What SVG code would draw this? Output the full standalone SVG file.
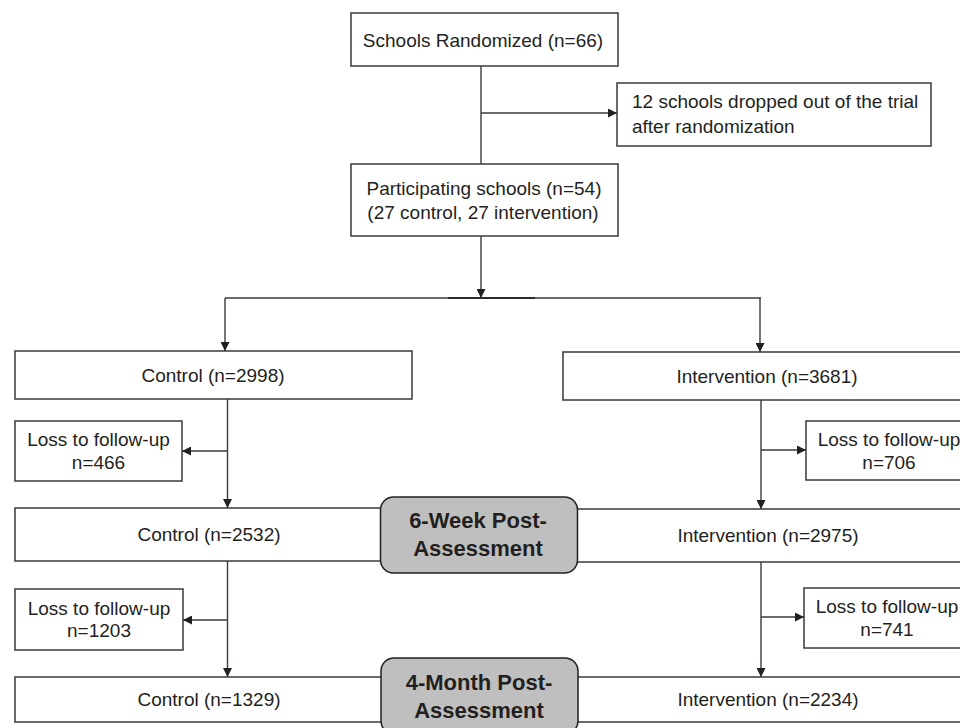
<svg xmlns="http://www.w3.org/2000/svg" width="960" height="728" viewBox="0 0 960 728">
<defs>
<marker id="arr" viewBox="0 0 10 10" refX="10" refY="5" markerWidth="11" markerHeight="9" orient="auto" markerUnits="userSpaceOnUse">
<path d="M0,0 L10,5 L0,10 Z" fill="#231f20"/>
</marker>
<style>
.box{fill:#ffffff;stroke:#3a3a3a;stroke-width:1.5}
.stage{fill:#bfbfbf;stroke:#231f20;stroke-width:1.5}
.t{font-family:"Liberation Sans",Arial,sans-serif;font-size:19px;fill:#231f20}
.c{text-anchor:middle}
.b{font-family:"Liberation Sans",Arial,sans-serif;font-size:22px;font-weight:bold;fill:#231f20;text-anchor:middle}
.ln{fill:none;stroke:#3a3a3a;stroke-width:1.4}
</style>
</defs>
<rect width="960" height="728" fill="#ffffff"/>
<g id="connectors">
<line class="ln" x1="481" y1="66" x2="481" y2="164"/>
<line class="ln" x1="481" y1="113" x2="617" y2="113" marker-end="url(#arr)"/>
<line class="ln" x1="481" y1="236" x2="481" y2="298" marker-end="url(#arr)"/>
<line class="ln" x1="225" y1="298" x2="761" y2="298"/>
<line x1="448" y1="298" x2="535" y2="298" stroke="#2a2a2a" stroke-width="1.8"/>
<line class="ln" x1="225" y1="298" x2="225" y2="351" marker-end="url(#arr)"/>
<line class="ln" x1="760" y1="298" x2="760" y2="352" marker-end="url(#arr)"/>
<line class="ln" x1="227.5" y1="399" x2="227.5" y2="508" marker-end="url(#arr)"/>
<line class="ln" x1="227.5" y1="451" x2="182" y2="451" marker-end="url(#arr)"/>
<line class="ln" x1="761" y1="400" x2="761" y2="509" marker-end="url(#arr)"/>
<line class="ln" x1="761" y1="450" x2="806" y2="450" marker-end="url(#arr)"/>
<line class="ln" x1="227.5" y1="561" x2="227.5" y2="677" marker-end="url(#arr)"/>
<line class="ln" x1="227.5" y1="620" x2="183" y2="620" marker-end="url(#arr)"/>
<line class="ln" x1="761" y1="562" x2="761" y2="677" marker-end="url(#arr)"/>
<line class="ln" x1="761" y1="617" x2="804" y2="617" marker-end="url(#arr)"/>
</g>
<g id="randomized">
<rect class="box" x="351" y="13" width="267" height="53"/>
<text class="t c" x="483" y="47">Schools Randomized (n=66)</text>
</g>
<g id="dropped">
<rect class="box" x="617" y="83" width="314" height="63"/>
<text class="t" x="632" y="108">12 schools dropped out of the trial</text>
<text class="t" x="632" y="133">after randomization</text>
</g>
<g id="participating">
<rect class="box" x="351" y="164" width="267" height="72"/>
<text class="t c" x="484" y="195">Participating schools (n=54)</text>
<text class="t c" x="483" y="219">(27 control, 27 intervention)</text>
</g>
<g id="control-baseline">
<rect class="box" x="15" y="351" width="397" height="48"/>
<text class="t c" x="213" y="382">Control (n=2998)</text>
</g>
<g id="intervention-baseline">
<rect class="box" x="563" y="352" width="410" height="48"/>
<text class="t c" x="767" y="383">Intervention (n=3681)</text>
</g>
<g id="loss-control-1">
<rect class="box" x="15" y="421" width="167" height="60"/>
<text class="t c" x="98.5" y="446">Loss to follow-up</text>
<text class="t c" x="98.5" y="469">n=466</text>
</g>
<g id="loss-intervention-1">
<rect class="box" x="806" y="421" width="170" height="59"/>
<text class="t c" x="889" y="446">Loss to follow-up</text>
<text class="t c" x="889" y="469">n=706</text>
</g>
<g id="control-6week">
<rect class="box" x="15" y="508" width="372" height="53"/>
<text class="t c" x="209" y="541">Control (n=2532)</text>
</g>
<g id="intervention-6week">
<rect class="box" x="571" y="509" width="402" height="53"/>
<text class="t c" x="768" y="542">Intervention (n=2975)</text>
</g>
<g id="stage-6week">
<rect class="stage" x="380.5" y="497" width="197" height="76" rx="13"/>
<text class="b" x="478" y="528">6-Week Post-</text>
<text class="b" x="478" y="556">Assessment</text>
</g>
<g id="loss-control-2">
<rect class="box" x="15" y="589" width="168" height="61"/>
<text class="t c" x="99" y="615">Loss to follow-up</text>
<text class="t c" x="99" y="637">n=1203</text>
</g>
<g id="loss-intervention-2">
<rect class="box" x="804" y="588" width="172" height="60"/>
<text class="t c" x="887" y="613">Loss to follow-up</text>
<text class="t c" x="887" y="636">n=741</text>
</g>
<g id="control-4month">
<rect class="box" x="15" y="677" width="372" height="45"/>
<text class="t c" x="209" y="706">Control (n=1329)</text>
</g>
<g id="intervention-4month">
<rect class="box" x="571" y="677" width="402" height="45"/>
<text class="t c" x="768" y="706">Intervention (n=2234)</text>
</g>
<g id="stage-4month">
<rect class="stage" x="381" y="658" width="197" height="76" rx="13"/>
<text class="b" x="479" y="690">4-Month Post-</text>
<text class="b" x="479" y="718">Assessment</text>
</g>
</svg>
